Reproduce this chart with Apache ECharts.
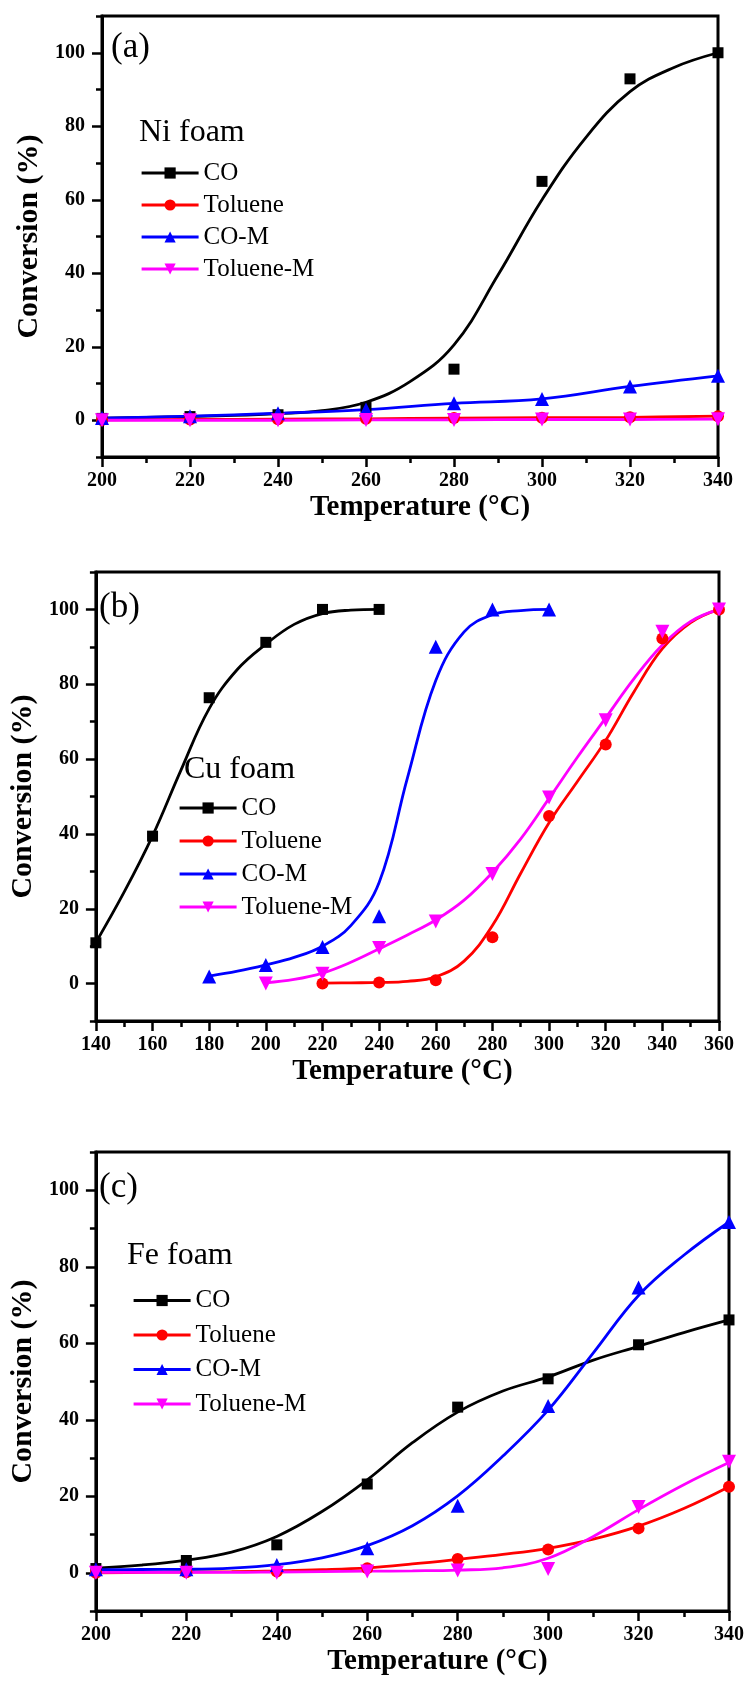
<!DOCTYPE html>
<html>
<head>
<meta charset="utf-8">
<script src="https://cdn.jsdelivr.net/npm/echarts@6/dist/echarts.min.js"></script>
<style>
html,body{margin:0;padding:0;background:#fff;}
#chart{width:749px;height:1686px;}
</style>
</head>
<body>
<div id="chart"></div>
<script>
// ---------------- DATA ----------------
const seriesNames = ['CO', 'Toluene', 'CO-M', 'Toluene-M'];
const yTickValues = [0, 20, 40, 60, 80, 100];

// Panel (a) Ni foam
const aT = [200, 220, 240, 260, 280, 300, 320, 340];
const aCO = [0.5, 1.0, 1.5, 3.5, 13.9, 65, 92.9, 100];
const aTol = [0.1, 0.2, 0.3, 0.4, 0.6, 0.7, 0.8, 1.1];
const aCOM = [0.6, 1.1, 1.9, 2.9, 4.6, 5.8, 9.2, 12.1];
const aTolM = [0, 0, 0, 0.1, 0.1, 0.2, 0.2, 0.3];
const aFitT = [200, 210, 220, 230, 240, 250, 260, 270, 280, 290, 300, 310, 320, 330, 340];
const aCOFit = [0.6, 0.8, 1.0, 1.3, 1.8, 2.6, 4.9, 10.5, 20.5, 39.5, 60, 77, 89.4, 96, 100];

// Panel (b) Cu foam
const bCOT = [140, 160, 180, 200, 220, 240];
const bCO = [10.9, 39.4, 76.4, 91.2, 100, 100];
const bCOFitT = [140, 150, 160, 170, 180, 190, 200, 210, 220, 230, 240];
const bCOFit = [11, 24.5, 39.5, 57, 73.5, 84, 90.7, 96, 98.9, 99.8, 100];
const bCOMT = [180, 200, 220, 240, 260, 280, 300];
const bCOM = [1.9, 5, 9.8, 18, 90, 100, 100];
const bCOMFitT = [180, 190, 200, 210, 220, 230, 240, 250, 260, 270, 280, 290, 300];
const bCOMFit = [2, 3.3, 5, 7, 10, 15.5, 27, 55, 81, 94, 98.6, 99.7, 100];
const bTolT = [220, 240, 260, 280, 300, 320, 340, 360];
const bTol = [0, 0.3, 0.9, 12.4, 44.8, 63.9, 92.2, 100];
const bTolFitT = [220, 230, 240, 250, 260, 270, 280, 290, 300, 310, 320, 330, 340, 350, 360];
const bTolFit = [0.1, 0.2, 0.3, 0.6, 1.8, 6, 15.5, 29.5, 43, 54, 65, 78, 89.5, 96.5, 100];
const bTolMT = [200, 220, 240, 260, 280, 300, 320, 340, 360];
const bTolM = [0, 2.6, 9.5, 16.6, 29.3, 49.7, 70.4, 94, 100];
const bTolMFitT = [200, 210, 220, 230, 240, 250, 260, 270, 280, 290, 300, 310, 320, 330, 340, 350, 360];
const bTolMFit = [0.2, 1.1, 2.8, 5.7, 9.3, 13, 17, 22.3, 29.7, 38.7, 49.5, 60.5, 71, 81.5, 90.5, 96.8, 100];

// Panel (c) Fe foam
const cT = [200, 220, 240, 260, 280, 300, 320, 340];
const cCO = [1.1, 3.2, 7.3, 23.2, 43.3, 50.7, 59.6, 66.1];
const cCOM = [0.9, 0.9, 2, 6.4, 17.5, 43.6, 74.6, 91.7];
const cTol = [0, 0.1, 0.3, 1.2, 3.6, 6.1, 11.6, 22.5];
const cTolM = [0, 0, 0, 0.3, 0.6, 1, 17.2, 29];
const cFitT = [200, 210, 220, 230, 240, 250, 260, 270, 280, 290, 300, 310, 320, 330, 340];
const cCOFit = [1.2, 2, 3.3, 5.4, 9.5, 16, 24.3, 34, 42, 47.5, 51.2, 55.6, 59.2, 62.8, 66.1];
const cCOMFit = [0.8, 0.85, 0.9, 1.2, 2.1, 3.9, 7.1, 12.3, 20.1, 30.5, 42.5, 57.5, 72.5, 83, 91.7];
const cTolFit = [0, 0.1, 0.2, 0.3, 0.5, 0.8, 1.3, 2.3, 3.5, 4.8, 6.4, 8.8, 12.2, 16.8, 22.5];
const cTolMFit = [0.1, 0.1, 0.1, 0.1, 0.2, 0.3, 0.4, 0.5, 0.7, 1.3, 3.8, 9.5, 16.5, 23, 28.8];

// ---------------- STYLE / BUILD ----------------
const FONT = '"Liberation Serif", "Times New Roman", serif';
const styles = {
  'CO': {color: '#000000', symbol: 'rect', size: 11, rotate: 0},
  'Toluene': {color: '#ff0000', symbol: 'circle', size: 12, rotate: 0},
  'CO-M': {color: '#0000ff', symbol: 'triangle', size: 14, rotate: 0},
  'Toluene-M': {color: '#ff00ff', symbol: 'triangle', size: 14, rotate: 180}
};
const pairs = (xs, ys) => xs.map((x, i) => [x, ys[i]]);

const panels = [
  {
    grid: {left: 102, top: 16, width: 616, height: 441},
    xmin: 200, xmax: 340, xNamePad: [0, 0, 0, 20], yNameGap: 46,
    label: '(a)', labelPos: [111, 30], foam: 'Ni foam', foamPos: [139, 117],
    legendPos: [140, 160.5], legendGap: 7,
    series: {
      'CO': {pts: pairs(aT, aCO), fit: pairs(aFitT, aCOFit)},
      'Toluene': {pts: pairs(aT, aTol), fit: pairs(aT, aTol)},
      'CO-M': {pts: pairs(aT, aCOM), fit: pairs(aT, aCOM)},
      'Toluene-M': {pts: pairs(aT, aTolM), fit: pairs(aT, aTolM)}
    }
  },
  {
    grid: {left: 90, top: 572, width: 629, height: 449},
    xmin: 140, xmax: 360, xNamePad: [0, 10, 0, 0], yNameGap: 41,
    label: '(b)', labelPos: [99, 590], foam: 'Cu foam', foamPos: [184, 754],
    legendPos: [178, 795.5], legendGap: 8,
    series: {
      'CO': {pts: pairs(bCOT, bCO), fit: pairs(bCOFitT, bCOFit)},
      'Toluene': {pts: pairs(bTolT, bTol), fit: pairs(bTolFitT, bTolFit)},
      'CO-M': {pts: pairs(bCOMT, bCOM), fit: pairs(bCOMFitT, bCOMFit)},
      'Toluene-M': {pts: pairs(bTolMT, bTolM), fit: pairs(bTolMFitT, bTolMFit)}
    }
  },
  {
    grid: {left: 87, top: 1152, width: 642, height: 459},
    xmin: 200, xmax: 340, xNamePad: [0, 0, 0, 50], yNameGap: 46,
    label: '(c)', labelPos: [99, 1170], foam: 'Fe foam', foamPos: [127, 1240],
    legendPos: [132, 1288], legendGap: 9.5,
    series: {
      'CO': {pts: pairs(cT, cCO), fit: pairs(cFitT, cCOFit)},
      'Toluene': {pts: pairs(cT, cTol), fit: pairs(cFitT, cTolFit)},
      'CO-M': {pts: pairs(cT, cCOM), fit: pairs(cFitT, cCOMFit)},
      'Toluene-M': {pts: pairs(cT, cTolM), fit: pairs(cFitT, cTolMFit)}
    }
  }
];

const option = {
  animation: false,
  backgroundColor: '#ffffff',
  textStyle: {fontFamily: FONT, color: '#000'},
  grid: [], xAxis: [], yAxis: [], series: [], legend: [], title: []
};

panels.forEach((p, g) => {
  option.grid.push(Object.assign({show: true, borderColor: '#000', borderWidth: 3, backgroundColor: 'transparent'}, p.grid));
  option.xAxis.push({
    gridIndex: g, type: 'value', min: p.xmin, max: p.xmax, interval: 20,
    name: 'Temperature (°C)', nameLocation: 'middle', nameGap: 36,
    nameTextStyle: {fontFamily: FONT, fontWeight: 'bold', fontSize: 29, color: '#000', padding: p.xNamePad},
    axisLine: {onZero: false, lineStyle: {color: '#000', width: 3}},
    axisTick: {show: true, inside: false, length: 10, lineStyle: {color: '#000', width: 2.5}},
    minorTick: {show: true, splitNumber: 2, length: 6, lineStyle: {color: '#000', width: 2.5}},
    axisLabel: {fontFamily: FONT, fontWeight: 'bold', fontSize: 20, color: '#000', margin: 14},
    splitLine: {show: false}, minorSplitLine: {show: false}
  });
  option.yAxis.push({
    gridIndex: g, type: 'value', min: -10, max: 110, interval: 10, position: 'left',
    name: 'Conversion (%)', nameLocation: 'middle', nameGap: p.yNameGap, nameRotate: 90,
    nameTextStyle: {fontFamily: FONT, fontWeight: 'bold', fontSize: 30, color: '#000'},
    axisLine: {onZero: false, lineStyle: {color: '#000', width: 3}},
    axisTick: {show: true, inside: false, length: 10, customValues: yTickValues, lineStyle: {color: '#000', width: 2.5}},
    axisLabel: {fontFamily: FONT, fontWeight: 'bold', fontSize: 20, color: '#000', margin: 17,
      customValues: yTickValues,
      formatter: v => (yTickValues.indexOf(v) >= 0 ? String(v) : '')},
    splitLine: {show: false}
  });
  option.yAxis.push({
    gridIndex: g, type: 'value', min: -10, max: 110, interval: 20, position: 'left', offset: 0,
    axisLine: {show: false, onZero: false},
    axisTick: {show: true, inside: false, length: 6, lineStyle: {color: '#000', width: 2.5}},
    axisLabel: {show: false}, splitLine: {show: false}
  });
  seriesNames.forEach(name => {
    const st = styles[name];
    const d = p.series[name];
    option.series.push({
      name: name, type: 'line', xAxisIndex: g, yAxisIndex: 2 * g,
      data: d.fit, smooth: 0.4, showSymbol: false,
      symbol: st.symbol, symbolRotate: st.rotate, symbolSize: st.size,
      lineStyle: {color: st.color, width: 2.8}, itemStyle: {color: st.color},
      z: 2, silent: true
    });
    option.series.push({
      name: name + ' data', type: 'scatter', xAxisIndex: g, yAxisIndex: 2 * g,
      data: d.pts, symbol: st.symbol, symbolRotate: st.rotate, symbolSize: st.size,
      itemStyle: {color: st.color, opacity: 1}, z: 3, silent: true
    });
  });
  option.legend.push({
    orient: 'vertical', left: p.legendPos[0], top: p.legendPos[1], padding: 0,
    itemWidth: 57, itemHeight: 14, itemGap: p.legendGap, selectedMode: false,
    data: seriesNames, lineStyle: {width: 3.2},
    textStyle: {fontFamily: FONT, fontSize: 25, color: '#000', lineHeight: 25}
  });
  option.title.push({
    text: p.label, left: p.labelPos[0], top: p.labelPos[1], padding: 0,
    textStyle: {fontFamily: FONT, fontWeight: 'normal', fontSize: 35, lineHeight: 35, color: '#000'}
  });
  option.title.push({
    text: p.foam, left: p.foamPos[0], top: p.foamPos[1], padding: 0,
    textStyle: {fontFamily: FONT, fontWeight: 'normal', fontSize: 32, lineHeight: 32, color: '#000'}
  });
});

const chart = echarts.init(document.getElementById('chart'), null, {renderer: 'canvas'});
chart.setOption(option);
</script>
</body>
</html>
